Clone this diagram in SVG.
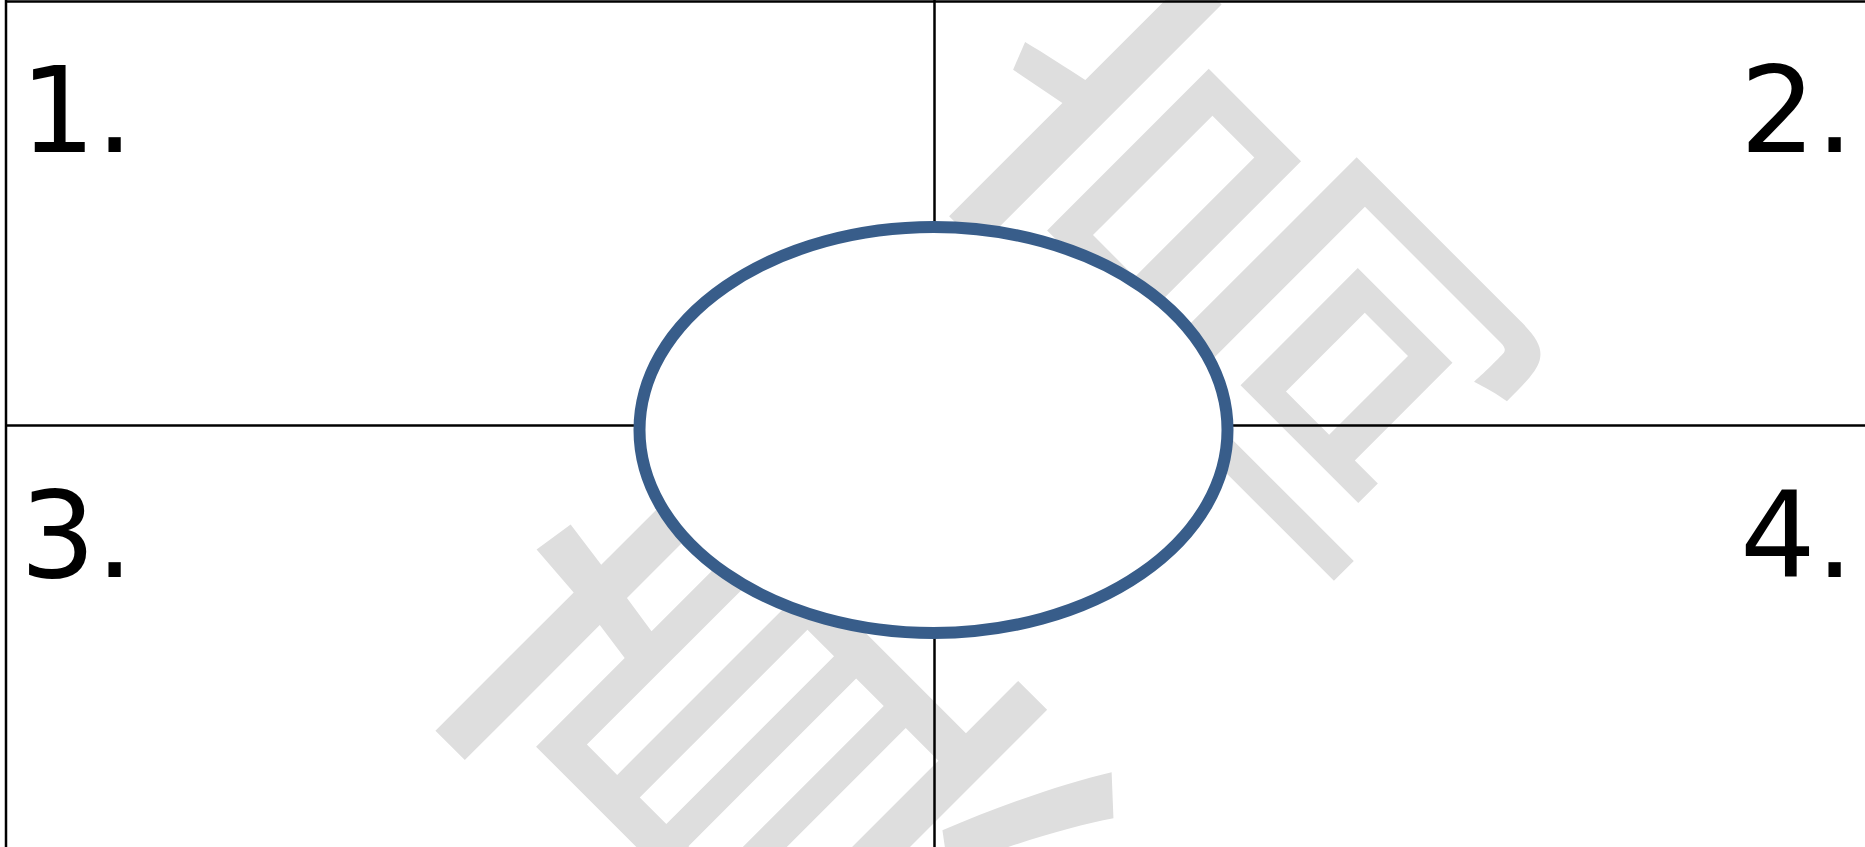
<svg xmlns="http://www.w3.org/2000/svg" width="1865" height="847" viewBox="0 0 1865 847">
  <style>
    .wm { font-family: "Noto Sans CJK SC", "Noto Sans CJK JP", sans-serif; fill: #dedede; font-size: 650px; text-anchor: middle; }
    .grid { stroke: #000000; stroke-width: 2.5; fill: none; }
    .num { font-family: "DejaVu Sans", "Liberation Sans", sans-serif; font-size: 119px; fill: #000000; }
    .hub { fill: #ffffff; stroke: #385d8a; stroke-width: 12; }
  </style>
  <rect width="1865" height="847" fill="#ffffff"/>
  <g id="watermark">
    <text class="wm" x="0" y="0" transform="translate(935,925) rotate(-45) scale(0.8,1)">真</text>
    <text class="wm" x="0" y="0" transform="translate(1409,433) rotate(-45) scale(0.6,1)">高</text>
  </g>
  <g id="connectors">
    <line class="grid" x1="5" y1="1.5" x2="1865" y2="1.5"/>
    <line class="grid" x1="6" y1="0" x2="6" y2="847"/>
    <line class="grid" x1="6" y1="425.5" x2="1865" y2="425.5"/>
    <line class="grid" x1="934.5" y1="0" x2="934.5" y2="847"/>
  </g>
  <g id="center">
    <ellipse class="hub" cx="933.5" cy="430" rx="294" ry="203"/>
  </g>
  <g id="q1"><text class="num" x="20" y="152">1.</text></g>
  <g id="q2"><text class="num" x="1740" y="152">2.</text></g>
  <g id="q3"><text class="num" x="20" y="577">3.</text></g>
  <g id="q4"><text class="num" x="1740" y="577">4.</text></g>
</svg>
